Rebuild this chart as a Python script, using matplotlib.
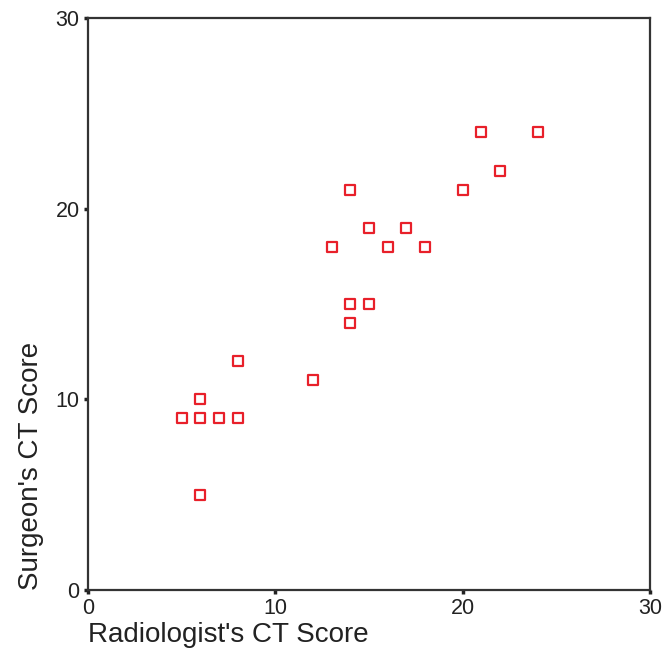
import matplotlib
matplotlib.use('Agg')
import matplotlib.pyplot as plt

plt.rcParams['font.family'] = ['Liberation Sans', 'DejaVu Sans']

radiologist = [5, 6, 6, 6, 7, 8, 8, 12, 13, 14, 14, 14, 15, 15, 16, 17, 18, 20, 21, 22, 24]
surgeon = [9, 9, 10, 5, 9, 9, 12, 11, 18, 21, 15, 14, 19, 15, 18, 19, 18, 21, 24, 22, 24]
ticks = [0, 10, 20, 30]

fig = plt.figure(figsize=(6.63, 6.61), dpi=100)
ax = fig.add_axes([88 / 663, 71 / 661, 562 / 663, 572 / 661])

ax.scatter(radiologist, surgeon, marker='s', s=42, facecolors='white',
           edgecolors='#e8202a', linewidths=1.6, zorder=3, clip_on=False)

ax.set_xlim(0, 30)
ax.set_ylim(0, 30)
ax.set_xticks(ticks)
ax.set_yticks(ticks)
ax.tick_params(direction='out', length=3, width=2.5, labelsize=15.5, pad=3, colors='#222222')
for sp in ax.spines.values():
    sp.set_linewidth(1.6)
    sp.set_color('#333333')

ax.set_xlabel("Radiologist's CT Score", fontsize=20, loc='left', labelpad=2, color='#222222')
ax.set_ylabel("Surgeon's CT Score", fontsize=20, loc='bottom', labelpad=8, color='#222222')

fig.savefig('out.png', dpi=100)
